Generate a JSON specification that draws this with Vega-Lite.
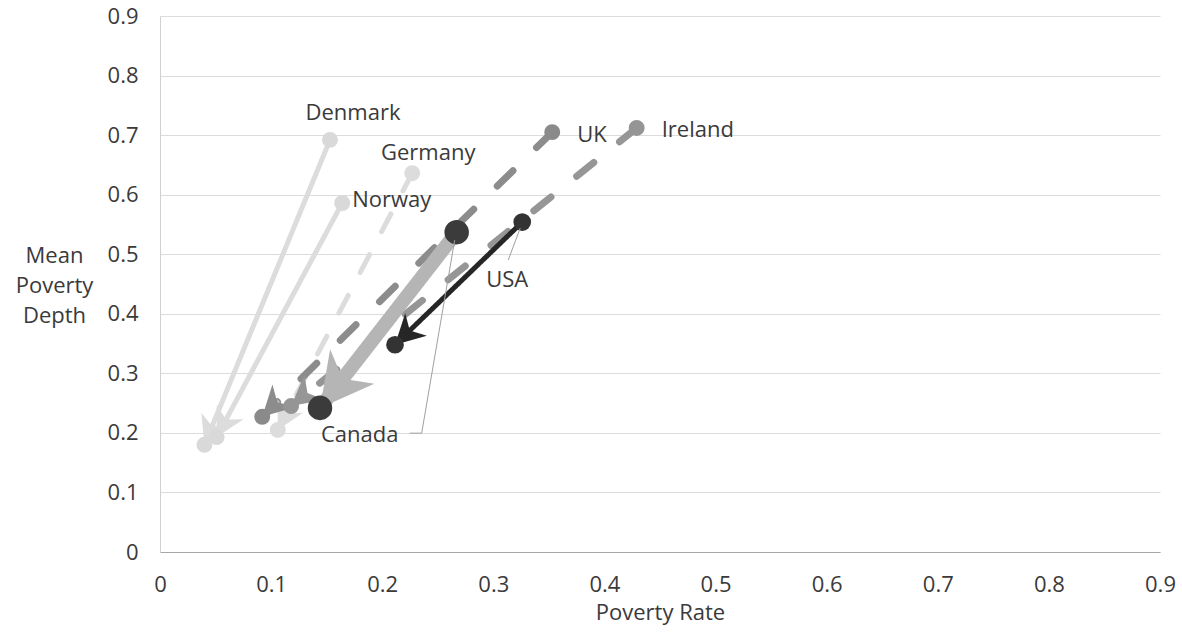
{
  "$schema": "https://vega.github.io/schema/vega-lite/v6.json",
  "width": 1000,
  "height": 536,
  "autosize": {"type": "none"},
  "padding": {"left": 160, "top": 16, "right": 22, "bottom": 92},
  "background": "white",
  "config": {
    "font": "Open Sans",
    "view": {"stroke": null},
    "axisX": {
      "domainColor": "#a6a6a6",
      "domainWidth": 1,
      "ticks": false,
      "grid": false,
      "labelFlush": false,
      "labelFontSize": 22,
      "labelColor": "#3a3a3a",
      "labelPadding": 22,
      "titleFontSize": 22,
      "titleFontWeight": "normal",
      "titleColor": "#3a3a3a",
      "titleBaseline": "top",
      "titleY": 50
    },
    "axisY": {
      "domainColor": "#d0d0d0",
      "ticks": false,
      "grid": true,
      "gridColor": "#dcdcdc",
      "labelFlush": false,
      "labelFontSize": 22,
      "labelColor": "#3a3a3a",
      "labelPadding": 22,
      "titleFontSize": 22,
      "titleFontWeight": "normal",
      "titleColor": "#3a3a3a",
      "titleAngle": 0,
      "titleAlign": "center",
      "titleBaseline": "middle",
      "titleLineHeight": 30,
      "titleX": -106,
      "titleY": 239
    }
  },
  "data": {
    "values": [
      {"country": "Denmark", "rate_start": 0.153, "depth_start": 0.692, "rate_end": 0.040, "depth_end": 0.180},
      {"country": "Norway", "rate_start": 0.164, "depth_start": 0.586, "rate_end": 0.051, "depth_end": 0.193},
      {"country": "Germany", "rate_start": 0.227, "depth_start": 0.636, "rate_end": 0.106, "depth_end": 0.205},
      {"country": "Ireland", "rate_start": 0.429, "depth_start": 0.712, "rate_end": 0.118, "depth_end": 0.245},
      {"country": "UK", "rate_start": 0.353, "depth_start": 0.705, "rate_end": 0.092, "depth_end": 0.227},
      {"country": "Canada", "rate_start": 0.267, "depth_start": 0.537, "rate_end": 0.144, "depth_end": 0.242},
      {"country": "USA", "rate_start": 0.326, "depth_start": 0.554, "rate_end": 0.2115, "depth_end": 0.348}
    ]
  },
  "transform": [
    {"calculate": "atan2((datum.rate_end - datum.rate_start) * 1000 / 0.9, (datum.depth_end - datum.depth_start) * 536 / 0.9) * 180 / PI", "as": "heading"}
  ],
  "encoding": {
    "x": {
      "field": "rate_start",
      "type": "quantitative",
      "title": "Poverty Rate",
      "scale": {"domain": [0, 0.9], "nice": false, "zero": true},
      "axis": {"values": [0, 0.1, 0.2, 0.3, 0.4, 0.5, 0.6, 0.7, 0.8, 0.9], "format": "~g"}
    },
    "y": {
      "field": "depth_start",
      "type": "quantitative",
      "title": ["Mean", "Poverty", "Depth"],
      "scale": {"domain": [0, 0.9], "nice": false, "zero": true},
      "axis": {"values": [0, 0.1, 0.2, 0.3, 0.4, 0.5, 0.6, 0.7, 0.8, 0.9], "format": "~g"}
    }
  },
  "layer": [
    {
      "mark": {"type": "rule", "strokeCap": "round"},
      "encoding": {
        "x2": {"field": "rate_end"},
        "y2": {"field": "depth_end"},
        "color": {
          "field": "country",
          "type": "nominal",
          "legend": null,
          "scale": {
            "domain": ["Denmark", "Norway", "Germany", "Ireland", "UK", "Canada", "USA"],
            "range": ["#dcdcdc", "#dcdcdc", "#dcdcdc", "#969696", "#8c8c8c", "#b5b5b5", "#262626"]
          }
        },
        "strokeWidth": {
          "field": "country",
          "type": "nominal",
          "legend": null,
          "scale": {
            "type": "ordinal",
            "domain": ["Denmark", "Norway", "Germany", "Ireland", "UK", "Canada", "USA"],
            "range": [5, 5, 5, 7, 7, 14, 5]
          }
        },
        "strokeDash": {
          "field": "country",
          "type": "nominal",
          "legend": null,
          "scale": {
            "domain": ["Denmark", "Norway", "Germany", "Ireland", "UK", "Canada", "USA"],
            "range": [[1, 0], [1, 0], [20, 26], [22, 33], [22, 33], [1, 0], [1, 0]]
          }
        }
      }
    },
    {
      "mark": {"type": "point", "filled": true, "opacity": 1, "shape": "M0,0L0.8,1.5L0,1.05L-0.8,1.5Z"},
      "encoding": {
        "x": {
          "field": "rate_end",
          "type": "quantitative",
          "title": "Poverty Rate",
          "scale": {"domain": [0, 0.9], "nice": false, "zero": true},
          "axis": {"values": [0, 0.1, 0.2, 0.3, 0.4, 0.5, 0.6, 0.7, 0.8, 0.9], "format": "~g"}
        },
        "y": {
          "field": "depth_end",
          "type": "quantitative",
          "title": ["Mean", "Poverty", "Depth"],
          "scale": {"domain": [0, 0.9], "nice": false, "zero": true},
          "axis": {"values": [0, 0.1, 0.2, 0.3, 0.4, 0.5, 0.6, 0.7, 0.8, 0.9], "format": "~g"}
        },
        "angle": {"field": "heading", "type": "quantitative", "scale": null},
        "color": {"field": "country", "type": "nominal", "legend": null},
        "size": {
          "field": "country",
          "type": "nominal",
          "legend": null,
          "scale": {
            "type": "ordinal",
            "domain": ["Denmark", "Norway", "Germany", "Ireland", "UK", "Canada", "USA"],
            "range": [1444, 1444, 1300, 1600, 1600, 4900, 1521]
          }
        }
      }
    },
    {
      "mark": {"type": "point", "filled": true, "opacity": 1, "shape": "circle"},
      "encoding": {
        "x": {
          "field": "rate_end",
          "type": "quantitative",
          "title": "Poverty Rate",
          "scale": {"domain": [0, 0.9], "nice": false, "zero": true},
          "axis": {"values": [0, 0.1, 0.2, 0.3, 0.4, 0.5, 0.6, 0.7, 0.8, 0.9], "format": "~g"}
        },
        "y": {
          "field": "depth_end",
          "type": "quantitative",
          "title": ["Mean", "Poverty", "Depth"],
          "scale": {"domain": [0, 0.9], "nice": false, "zero": true},
          "axis": {"values": [0, 0.1, 0.2, 0.3, 0.4, 0.5, 0.6, 0.7, 0.8, 0.9], "format": "~g"}
        },
        "fill": {
          "field": "country",
          "type": "nominal",
          "legend": null,
          "scale": {
            "domain": ["Denmark", "Norway", "Germany", "Ireland", "UK", "Canada", "USA"],
            "range": ["#d9d9d9", "#d9d9d9", "#dcdcdc", "#959595", "#8a8a8a", "#3b3b3b", "#333333"]
          }
        },
        "size": {
          "field": "country",
          "type": "nominal",
          "legend": null,
          "scale": {
            "type": "ordinal",
            "domain": ["Denmark", "Norway", "Germany", "Ireland", "UK", "Canada", "USA"],
            "range": [254, 254, 254, 254, 254, 600, 314]
          }
        }
      }
    },
    {
      "mark": {"type": "point", "filled": true, "opacity": 1, "shape": "circle"},
      "encoding": {
        "fill": {"field": "country", "type": "nominal", "legend": null},
        "size": {
          "field": "country",
          "type": "nominal",
          "legend": null,
          "scale": {
            "type": "ordinal",
            "domain": ["Denmark", "Norway", "Germany", "Ireland", "UK", "Canada", "USA"],
            "range": [254, 254, 254, 254, 254, 600, 314]
          }
        }
      }
    },
    {
      "transform": [{"filter": "datum.country === 'Canada'"}],
      "mark": {"type": "rule", "color": "#a0a0a0", "strokeWidth": 1, "xOffset": -2, "yOffset": 8, "x2Offset": -35, "y2Offset": 201},
      "encoding": {"x2": {"field": "rate_start"}, "y2": {"field": "depth_start"}}
    },
    {
      "transform": [{"filter": "datum.country === 'Canada'"}],
      "mark": {"type": "rule", "color": "#a0a0a0", "strokeWidth": 1, "xOffset": -35, "yOffset": 201, "x2Offset": -47, "y2Offset": 201},
      "encoding": {"x2": {"field": "rate_start"}, "y2": {"field": "depth_start"}}
    },
    {
      "transform": [{"filter": "datum.country === 'USA'"}],
      "mark": {"type": "rule", "color": "#a0a0a0", "strokeWidth": 1, "xOffset": -2, "yOffset": 6, "x2Offset": -14, "y2Offset": 38},
      "encoding": {"x2": {"field": "rate_start"}, "y2": {"field": "depth_start"}}
    },
    {
      "transform": [{"filter": "datum.country === 'Denmark'"}],
      "mark": {"type": "text", "fontSize": 22, "color": "#3a3a3a", "align": "center", "baseline": "middle", "dx": 23, "dy": -27},
      "encoding": {"text": {"field": "country"}}
    },
    {
      "transform": [{"filter": "datum.country === 'Germany'"}],
      "mark": {"type": "text", "fontSize": 22, "color": "#3a3a3a", "align": "center", "baseline": "middle", "dx": 16, "dy": -20},
      "encoding": {"text": {"field": "country"}}
    },
    {
      "transform": [{"filter": "datum.country === 'Norway'"}],
      "mark": {"type": "text", "fontSize": 22, "color": "#3a3a3a", "align": "left", "baseline": "middle", "dx": 10, "dy": -3},
      "encoding": {"text": {"field": "country"}}
    },
    {
      "transform": [{"filter": "datum.country === 'UK'"}],
      "mark": {"type": "text", "fontSize": 22, "color": "#3a3a3a", "align": "left", "baseline": "middle", "dx": 25, "dy": 3},
      "encoding": {"text": {"field": "country"}}
    },
    {
      "transform": [{"filter": "datum.country === 'Ireland'"}],
      "mark": {"type": "text", "fontSize": 22, "color": "#3a3a3a", "align": "left", "baseline": "middle", "dx": 25, "dy": 2},
      "encoding": {"text": {"field": "country"}}
    },
    {
      "transform": [{"filter": "datum.country === 'USA'"}],
      "mark": {"type": "text", "fontSize": 22, "color": "#3a3a3a", "align": "center", "baseline": "middle", "dx": -15, "dy": 58},
      "encoding": {"text": {"field": "country"}}
    },
    {
      "transform": [{"filter": "datum.country === 'Canada'"}],
      "mark": {"type": "text", "fontSize": 22, "color": "#3a3a3a", "align": "center", "baseline": "middle", "dx": -97, "dy": 203},
      "encoding": {"text": {"field": "country"}}
    }
  ],
  "resolve": {"scale": {"size": "independent"}}
}
